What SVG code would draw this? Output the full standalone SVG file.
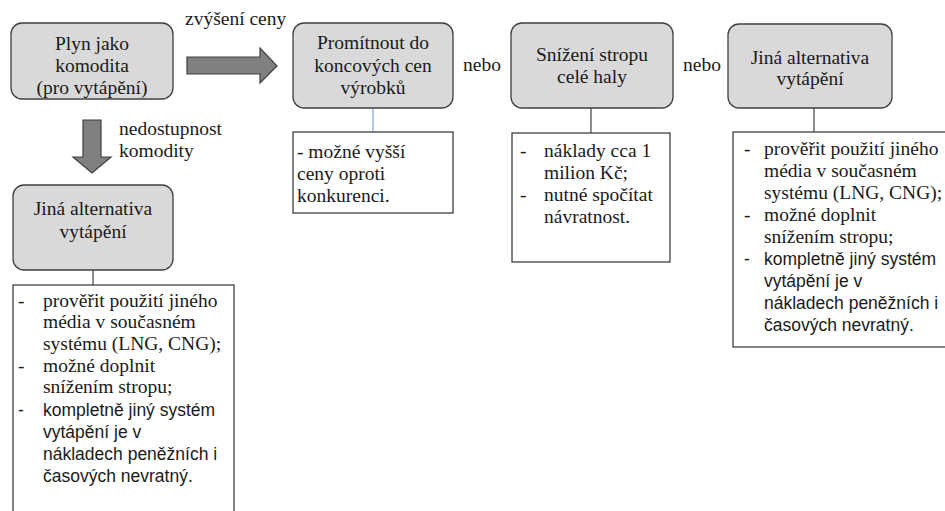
<svg xmlns="http://www.w3.org/2000/svg" width="945" height="511" viewBox="0 0 945 511">
<style>
.node{fill:#d9d9d9;stroke:#404040;stroke-width:1.3}
.box{fill:#ffffff;stroke:#404040;stroke-width:1.3}
.arrow{fill:#808080;stroke:#404040;stroke-width:1.2}
.link{stroke:#404040;stroke-width:1.2;fill:none}
.blue{stroke:#8eaadb;stroke-width:1.3;fill:none}
.t{font-family:"Liberation Serif","Times New Roman",serif;font-size:19.5px;fill:#1a1a1a}
.c{text-anchor:middle}
.s{font-family:"Liberation Sans",Arial,sans-serif;font-size:17.5px;fill:#1a1a1a}
</style>
<rect width="945" height="511" fill="#ffffff"/>

<g id="connectors">
  <path class="arrow" d="M187,57 H260 V48 L277,66 L260,83 V74 H187 Z"/>
  <path class="arrow" d="M83,120 H101 V157 H111 L92,173 L73,157 H83 Z"/>
  <line class="blue" x1="373" y1="108" x2="373" y2="132"/>
  <line class="link" x1="591" y1="108" x2="591" y2="133"/>
  <line class="link" x1="814" y1="108" x2="814" y2="132"/>
  <line class="link" x1="93" y1="270" x2="93" y2="285"/>
  <text class="t" x="185" y="25">zvýšení ceny</text>
  <text class="t" x="119" y="135">nedostupnost</text>
  <text class="t" x="119" y="157">komodity</text>
  <text class="t" x="463" y="71">nebo</text>
  <text class="t" x="683" y="71">nebo</text>
</g>

<g id="plyn">
  <rect class="node" x="11" y="23" width="162" height="76" rx="11"/>
  <text class="t c" x="92" y="50">Plyn jako</text>
  <text class="t c" x="92" y="72">komodita</text>
  <text class="t c" x="92" y="94">(pro vytápění)</text>
</g>

<g id="promitnout">
  <rect class="node" x="293" y="23" width="160" height="85" rx="11"/>
  <text class="t c" x="373" y="49">Promítnout do</text>
  <text class="t c" x="373" y="72">koncových cen</text>
  <text class="t c" x="373" y="94">výrobků</text>
</g>

<g id="promitnout-detail">
  <rect class="box" x="293" y="132" width="160" height="81"/>
  <text class="t" x="297" y="158">- možné vyšší</text>
  <text class="t" x="297" y="180">ceny oproti</text>
  <text class="t" x="297" y="202">konkurenci.</text>
</g>

<g id="snizeni">
  <rect class="node" x="511" y="23" width="162" height="85" rx="11"/>
  <text class="t c" x="592" y="61">Snížení stropu</text>
  <text class="t c" x="592" y="83">celé haly</text>
</g>

<g id="snizeni-detail">
  <rect class="box" x="512" y="133" width="158" height="129"/>
  <text class="t" x="520" y="157">-</text>
  <text class="t" x="544" y="157">náklady cca 1</text>
  <text class="t" x="544" y="179">milion Kč;</text>
  <text class="t" x="520" y="201">-</text>
  <text class="t" x="544" y="201">nutné spočítat</text>
  <text class="t" x="544" y="223">návratnost.</text>
</g>

<g id="jina-right">
  <rect class="node" x="728" y="24" width="164" height="84" rx="11"/>
  <text class="t c" x="810" y="64">Jiná alternativa</text>
  <text class="t c" x="810" y="85">vytápění</text>
</g>

<g id="jina-right-detail">
  <rect class="box" x="733" y="132" width="214" height="215"/>
  <text class="t" x="744" y="155">-</text>
  <text class="t" x="764" y="155">prověřit použití jiného</text>
  <text class="t" x="764" y="177">média v současném</text>
  <text class="t" x="764" y="199">systému (LNG, CNG);</text>
  <text class="t" x="744" y="221">-</text>
  <text class="t" x="764" y="221">možné doplnit</text>
  <text class="t" x="764" y="243">snížením stropu;</text>
  <text class="s" x="744" y="265">-</text>
  <text class="s" x="764" y="265">kompletně jiný systém</text>
  <text class="s" x="764" y="287">vytápění je v</text>
  <text class="s" x="764" y="309">nákladech peněžních i</text>
  <text class="s" x="764" y="331">časových nevratný.</text>
</g>

<g id="jina-left">
  <rect class="node" x="13" y="185" width="160" height="85" rx="11"/>
  <text class="t c" x="93" y="215">Jiná alternativa</text>
  <text class="t c" x="93" y="238">vytápění</text>
</g>

<g id="jina-left-detail">
  <rect class="box" x="13" y="285" width="221" height="240"/>
  <text class="t" x="18" y="307">-</text>
  <text class="t" x="43" y="307">prověřit použití jiného</text>
  <text class="t" x="43" y="328">média v současném</text>
  <text class="t" x="43" y="350">systému (LNG, CNG);</text>
  <text class="t" x="18" y="372">-</text>
  <text class="t" x="43" y="372">možné doplnit</text>
  <text class="t" x="43" y="393">snížením stropu;</text>
  <text class="s" x="18" y="416">-</text>
  <text class="s" x="43" y="416">kompletně jiný systém</text>
  <text class="s" x="43" y="438">vytápění je v</text>
  <text class="s" x="43" y="460">nákladech peněžních i</text>
  <text class="s" x="43" y="482">časových nevratný.</text>
</g>
</svg>
